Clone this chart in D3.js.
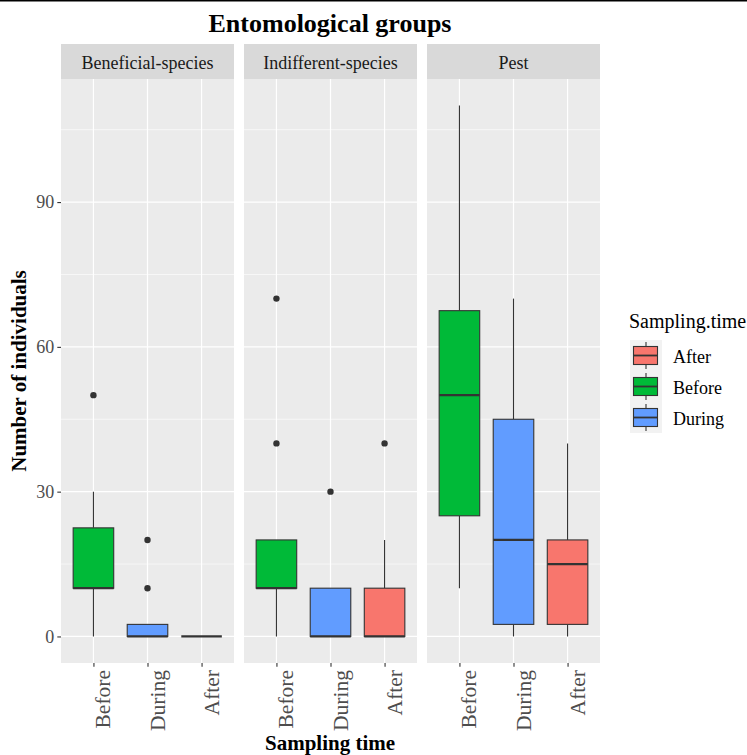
<!DOCTYPE html>
<html>
<head>
<meta charset="utf-8">
<script src="https://cdn.jsdelivr.net/npm/d3@7"></script>
<style>
  html, body { margin: 0; padding: 0; background: #fff; }
  svg text { font-family: "Liberation Serif", "Times New Roman", serif; }
</style>
</head>
<body>
<svg id="chart" width="747" height="755"></svg>
<script>
// Facets, x categories and legend order
const groups = ["Beneficial-species", "Indifferent-species", "Pest"];
const times = ["Before", "During", "After"];
const legendTimes = ["After", "Before", "During"];

// Box summaries per facet, one row per sampling time (Before, During, After):
// [lower whisker, Q1, median, Q3, upper whisker]
const beneficialStats = [[0, 10, 10, 22.5, 30], [0, 0, 0, 2.5, 2.5], [0, 0, 0, 0, 0]];
const indifferentStats = [[0, 10, 10, 20, 20], [0, 0, 0, 10, 10], [0, 0, 0, 10, 20]];
const pestStats = [[10, 25, 50, 67.5, 110], [0, 2.5, 20, 45, 70], [0, 2.5, 15, 20, 40]];

// Outlying points per facet, same order
const beneficialOutliers = [[50], [10, 20], []];
const indifferentOutliers = [[40, 70], [30], [40]];
const pestOutliers = [[], [], []];

const yTicks = [0, 30, 60, 90];
const yMinorTicks = [15, 45, 75, 105];

const statsByGroup = [beneficialStats, indifferentStats, pestStats];
const outliersByGroup = [beneficialOutliers, indifferentOutliers, pestOutliers];

const fill = d3.scaleOrdinal()
  .domain(["After", "Before", "During"])
  .range(["#F8766D", "#00BA38", "#619CFF"]);

const svg = d3.select("#chart");

// top rule
svg.append("rect").attr("x", 0).attr("y", 0).attr("width", 747).attr("height", 1.5).attr("fill", "#000");

const panelTop = 79, panelBottom = 663, stripTop = 44;
const panelLefts = [61, 244, 427], panelWidth = 173;

const y = d3.scaleLinear().domain([-5.5, 115.5]).range([panelBottom, panelTop]);

// title
svg.append("text")
  .attr("x", 330).attr("y", 32)
  .attr("text-anchor", "middle")
  .attr("font-size", 26).attr("font-weight", "bold").attr("fill", "#000")
  .text("Entomological groups");

groups.forEach((g, gi) => {
  const left = panelLefts[gi];
  const x = d3.scalePoint().domain(times).range([left, left + panelWidth]).padding(0.6);
  const step = x.step();
  const boxW = step * 0.75;
  const p = svg.append("g");

  // strip
  p.append("rect").attr("x", left).attr("y", stripTop).attr("width", panelWidth)
    .attr("height", panelTop - stripTop).attr("fill", "#D9D9D9");
  p.append("text").attr("x", left + panelWidth / 2).attr("y", (stripTop + panelTop) / 2 + 7.5)
    .attr("text-anchor", "middle").attr("font-size", 18).attr("fill", "#1A1A1A").text(g);

  // panel background
  p.append("rect").attr("x", left).attr("y", panelTop).attr("width", panelWidth)
    .attr("height", panelBottom - panelTop).attr("fill", "#EBEBEB");

  // grid
  p.selectAll(".ymin").data(yMinorTicks).join("line")
    .attr("x1", left).attr("x2", left + panelWidth)
    .attr("y1", d => y(d)).attr("y2", d => y(d))
    .attr("stroke", "#fff").attr("stroke-width", 0.6);
  p.selectAll(".ymaj").data(yTicks).join("line")
    .attr("x1", left).attr("x2", left + panelWidth)
    .attr("y1", d => y(d)).attr("y2", d => y(d))
    .attr("stroke", "#fff").attr("stroke-width", 1.2);
  p.selectAll(".xmaj").data(times).join("line")
    .attr("x1", d => x(d)).attr("x2", d => x(d))
    .attr("y1", panelTop).attr("y2", panelBottom)
    .attr("stroke", "#fff").attr("stroke-width", 1.2);

  // boxes
  times.forEach((t, ti) => {
    const [lo, q1, med, q3, hi] = statsByGroup[gi][ti];
    const cx = x(t);
    const col = "#333333";
    p.append("line").attr("x1", cx).attr("x2", cx).attr("y1", y(q3)).attr("y2", y(hi))
      .attr("stroke", col).attr("stroke-width", 1.1);
    p.append("line").attr("x1", cx).attr("x2", cx).attr("y1", y(q1)).attr("y2", y(lo))
      .attr("stroke", col).attr("stroke-width", 1.1);
    p.append("rect").attr("x", cx - boxW / 2).attr("width", boxW)
      .attr("y", y(q3)).attr("height", y(q1) - y(q3))
      .attr("fill", fill(t)).attr("stroke", col).attr("stroke-width", 1.1);
    p.append("line").attr("x1", cx - boxW / 2).attr("x2", cx + boxW / 2)
      .attr("y1", y(med)).attr("y2", y(med))
      .attr("stroke", col).attr("stroke-width", 2.3);
    p.selectAll(null).data(outliersByGroup[gi][ti]).join("circle")
      .attr("cx", cx).attr("cy", d => y(d)).attr("r", 3.2).attr("fill", col);
  });

  // x axis
  const xAxis = p.append("g").attr("transform", `translate(0,${panelBottom})`)
    .call(d3.axisBottom(x).tickSize(3.7).tickPadding(4));
  xAxis.select(".domain").remove();
  xAxis.selectAll(".tick line").attr("stroke", "#333333").attr("stroke-width", 1.1);
  xAxis.selectAll(".tick text")
    .attr("font-size", 21.5).attr("fill", "#4D4D4D")
    .attr("text-anchor", "end")
    .attr("dy", 0)
    .attr("transform", "translate(16.5,7) rotate(-90)")
    .attr("x", 0).attr("y", 0);
});

// y axis
const yAxis = svg.append("g").attr("transform", `translate(${panelLefts[0]},0)`)
  .call(d3.axisLeft(y).tickValues(yTicks).tickSize(3.7).tickPadding(3));
yAxis.select(".domain").remove();
yAxis.selectAll(".tick line").attr("stroke", "#333333").attr("stroke-width", 1.1);
yAxis.selectAll(".tick text").attr("font-size", 18).attr("fill", "#4D4D4D").attr("font-family", "Liberation Serif");

// axis titles
svg.append("text")
  .attr("transform", `translate(26,${(panelTop + panelBottom) / 2}) rotate(-90)`)
  .attr("text-anchor", "middle").attr("font-size", 21).attr("font-weight", "bold").attr("fill", "#000")
  .text("Number of individuals");
svg.append("text")
  .attr("x", 330).attr("y", 750)
  .attr("text-anchor", "middle").attr("font-size", 21).attr("font-weight", "bold").attr("fill", "#000")
  .text("Sampling time");

// legend
const lg = svg.append("g");
lg.append("text").attr("x", 629).attr("y", 328)
  .attr("font-size", 20).attr("fill", "#000").text("Sampling.time");
const keySize = 31, keyX = 630, keyY0 = 340;
legendTimes.forEach((t, i) => {
  const ky = keyY0 + i * keySize;
  const cy = ky + keySize / 2;
  lg.append("rect").attr("x", keyX).attr("y", ky).attr("width", 32).attr("height", keySize)
    .attr("fill", "#F2F2F2");
  lg.append("line").attr("x1", keyX + 16).attr("x2", keyX + 16).attr("y1", ky + 2).attr("y2", ky + keySize - 2)
    .attr("stroke", "#333333").attr("stroke-width", 1.1);
  lg.append("rect").attr("x", keyX + 3.5).attr("y", cy - 9).attr("width", 24).attr("height", 18)
    .attr("fill", fill(t)).attr("stroke", "#333333").attr("stroke-width", 1.1);
  lg.append("line").attr("x1", keyX + 3.5).attr("x2", keyX + 27.5).attr("y1", cy).attr("y2", cy)
    .attr("stroke", "#333333").attr("stroke-width", 1.8);
  lg.append("text").attr("x", 673).attr("y", cy + 7.5)
    .attr("font-size", 18).attr("fill", "#000").text(t);
});
</script>
</body>
</html>
